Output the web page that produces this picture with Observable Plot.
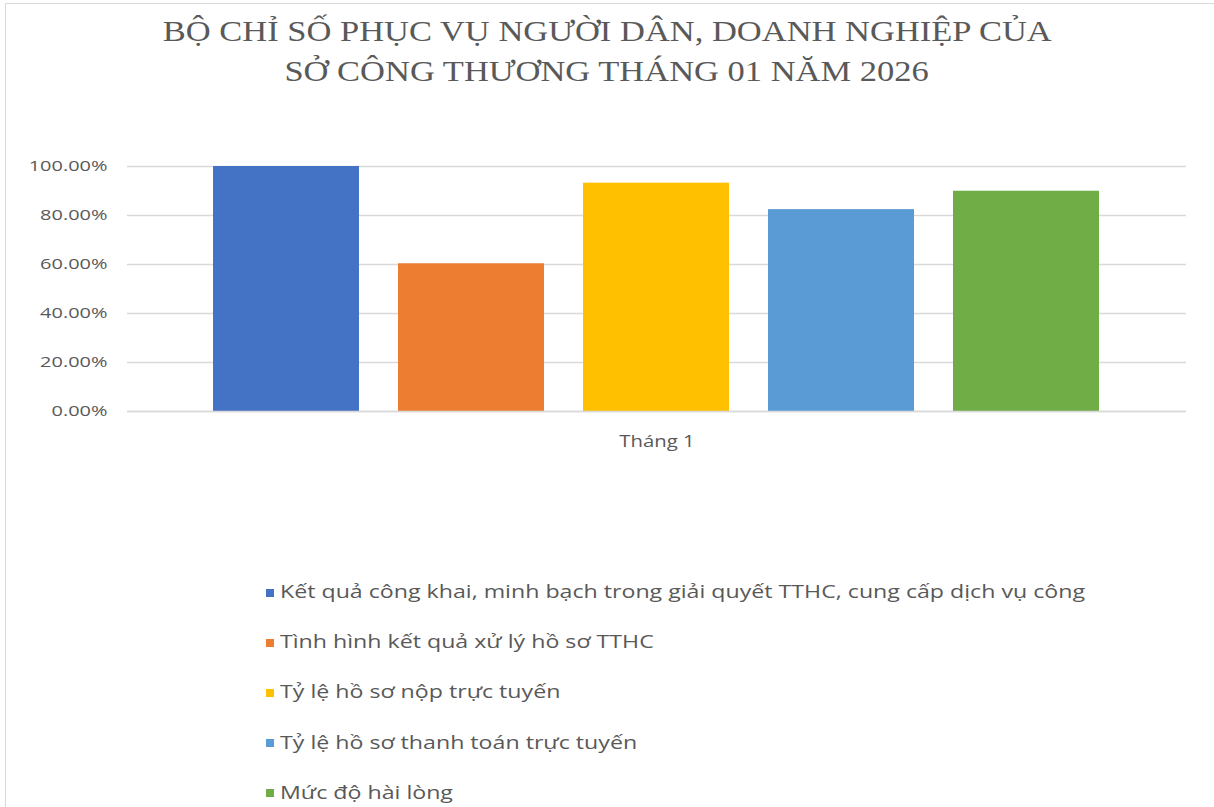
<!DOCTYPE html>
<html>
<head>
<meta charset="utf-8">
<script src="https://cdn.jsdelivr.net/npm/d3@7"></script>
<script src="https://cdn.jsdelivr.net/npm/@observablehq/plot@0.6"></script>
<style>
  html, body { margin: 0; padding: 0; background: #fff; }
  body { width: 1214px; height: 807px; position: relative; overflow: hidden; }
  #frame { position: absolute; left: 5px; top: 3px; width: 1300px; height: 900px;
           border-left: 1.5px solid #d9d9d9; border-top: 1.5px solid #d9d9d9; }
  #title { position: absolute; left: 0; width: 1214px; top: 11px; text-align: center;
           font-family: "Liberation Serif", "DejaVu Serif", serif; font-size: 29.5px;
           line-height: 40px; color: #595959; }
  #title span { display: inline-block; transform-origin: center center; white-space: nowrap; }
  #chart { position: absolute; left: 0; top: 0; }
  #legend { position: absolute; left: 266px; top: 578px; font-family: "Open Sans", "Noto Sans", sans-serif;
            font-size: 18.5px; color: #595959; }
  .item { height: 50.2px; display: flex; align-items: flex-start; }
  .sw { width: 8px; height: 8px; margin-top: 10.5px; margin-right: 6px; flex: none; }
  .lt { display: inline-block; white-space: nowrap; transform-origin: left center; }
</style>
</head>
<body>
<div id="frame"></div>
<div id="title"><span id="t1">BỘ CHỈ SỐ PHỤC VỤ NGƯỜI DÂN, DOANH NGHIỆP CỦA</span><br><span id="t2">SỞ CÔNG THƯƠNG THÁNG 01 NĂM 2026</span></div>
<div id="chart"></div>
<div id="legend"></div>
<script>
const series = [
  "Kết quả công khai, minh bạch trong giải quyết TTHC, cung cấp dịch vụ công",
  "Tình hình kết quả xử lý hồ sơ TTHC",
  "Tỷ lệ hồ sơ nộp trực tuyến",
  "Tỷ lệ hồ sơ thanh toán trực tuyến",
  "Mức độ hài lòng"
];
const values = [1.00, 0.603, 0.932, 0.824, 0.899];
const colors = ["#4472C4", "#ED7D31", "#FFC000", "#5B9BD5", "#70AD47"];
const yTicks = [0, 0.2, 0.4, 0.6, 0.8, 1.0];
const category = "Tháng 1";

const data = series.map((s, i) => ({series: s, value: values[i]}));
const fmt = d => (d * 100).toFixed(2) + "%";

const plot = Plot.plot({
  width: 1214,
  height: 470,
  marginTop: 166,
  marginBottom: 59,
  marginLeft: 127,
  marginRight: 28,
  style: {fontFamily: "'Open Sans', 'Noto Sans', sans-serif", fontSize: "15px", color: "#595959", background: "transparent"},
  x: {domain: series, paddingInner: 0.21, paddingOuter: 0.465, axis: null},
  y: {domain: [0, 1], ticks: yTicks, tickFormat: fmt, tickSize: 0, tickPadding: 20, label: null},
  color: {domain: series, range: colors},
  marks: [
    Plot.gridY(yTicks, {stroke: "#d9d9d9", strokeOpacity: 1, strokeWidth: 1.5}),
    Plot.barY(data, {x: "series", y: "value", fill: "series"}),
    Plot.ruleY([0], {stroke: "#d9d9d9", strokeWidth: 1.5}),
    Plot.axisY({ticks: yTicks, tickFormat: fmt, tickSize: 0, tickPadding: 20, label: null, fill: "#595959", fontSize: 15}),
    Plot.text([category], {frameAnchor: "bottom", dy: 35, fill: "#595959", fontSize: 16})
  ]
});
document.getElementById("chart").appendChild(plot);

// widen svg texts to mimic the horizontally stretched source rendering
plot.querySelectorAll('g[aria-label="y-axis tick label"] text').forEach(t => {
  const w = t.getComputedTextLength();
  t.setAttribute("textLength", (w * 1.33).toFixed(1));
  t.setAttribute("lengthAdjust", "spacingAndGlyphs");
});
plot.querySelectorAll('g[aria-label="text"] text').forEach(t => {
  const w = t.getComputedTextLength();
  t.setAttribute("textLength", (w * 1.27).toFixed(1));
  t.setAttribute("lengthAdjust", "spacingAndGlyphs");
});

// legend
const legend = document.getElementById("legend");
const spans = [];
series.forEach((s, i) => {
  const item = document.createElement("div");
  item.className = "item";
  const sw = document.createElement("div");
  sw.className = "sw";
  sw.style.background = colors[i];
  const tx = document.createElement("span");
  tx.className = "lt";
  tx.textContent = s;
  item.appendChild(sw);
  item.appendChild(tx);
  legend.appendChild(item);
  spans.push(tx);
});
const lw = spans[0].getBoundingClientRect().width;
const ls = 805 / lw;
spans.forEach(sp => sp.style.transform = `scaleX(${ls})`);
const t1 = document.getElementById("t1"), t2 = document.getElementById("t2");
const ts = 889 / t1.getBoundingClientRect().width;
t1.style.transform = `scaleX(${ts})`;
t2.style.transform = `scaleX(${ts})`;
</script>
</body>
</html>
